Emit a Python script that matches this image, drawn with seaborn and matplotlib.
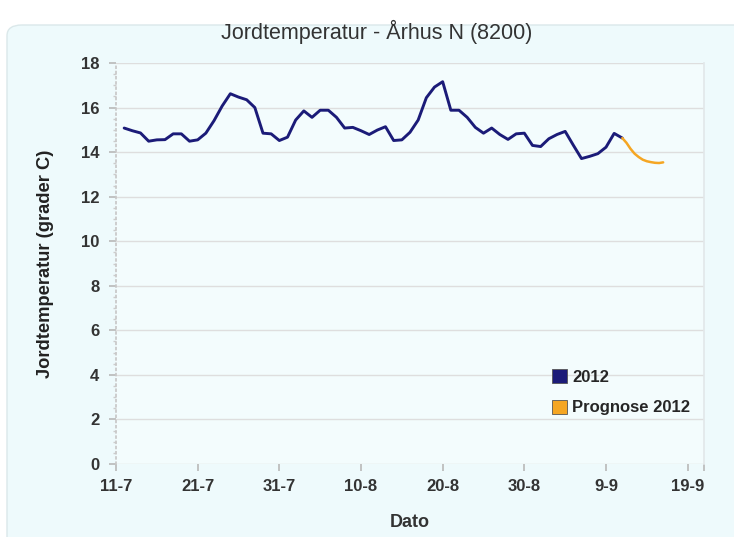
import matplotlib
matplotlib.use("Agg")
import matplotlib.pyplot as plt
from matplotlib.patches import Patch, FancyBboxPatch
from matplotlib.ticker import MultipleLocator
import seaborn as sns
import pandas as pd

# daily soil temperature, 12-7 .. 11-9 2012
temp_2012 = [15.08, 14.96, 14.86, 14.49, 14.55, 14.56, 14.82, 14.82, 14.49, 14.55,
             14.85, 15.41, 16.07, 16.62, 16.47, 16.35, 16.00, 14.85, 14.82, 14.52,
             14.67, 15.44, 15.85, 15.56, 15.88, 15.88, 15.56, 15.08, 15.11, 14.96,
             14.79, 14.99, 15.14, 14.52, 14.55, 14.89, 15.44, 16.44, 16.92, 17.16,
             15.88, 15.88, 15.56, 15.11, 14.85, 15.08, 14.79, 14.57, 14.82, 14.85,
             14.30, 14.25, 14.60, 14.79, 14.93, 14.31, 13.71, 13.81, 13.93, 14.22,
             14.84, 14.63]
start_2012 = "2012-07-12"

# forecast, every 12 hours from 11-9
prognose = [14.63, 14.42, 14.15, 13.93, 13.78, 13.66, 13.59, 13.55, 13.52, 13.51, 13.54]
start_prognose = "2012-09-11"

tick_dates = pd.date_range("2012-07-11", "2012-09-19", freq="10D")
series_names = ["2012", "Prognose 2012"]
colors = ["#1b1b78", "#f5a623"]

df_obs = pd.DataFrame({"dato": pd.date_range(start_2012, periods=len(temp_2012), freq="D"),
                       "temp": temp_2012})
df_prog = pd.DataFrame({"dato": pd.date_range(start_prognose, periods=len(prognose), freq="12h"),
                        "temp": prognose})

sns.set_theme(style="white")
plt.rcParams["font.family"] = ["Liberation Sans", "DejaVu Sans"]

fig = plt.figure(figsize=(7.34, 5.37), dpi=100, facecolor="white")
# rounded background panel
panel = FancyBboxPatch((7 / 734, -0.1), 1.2, (537 - 25) / 537 + 0.1,
                       boxstyle="round,pad=0,rounding_size=0.02",
                       transform=fig.transFigure, facecolor="#eefafc",
                       edgecolor="#dbe8ea", linewidth=1, zorder=-10)
fig.patches.append(panel)

ax = fig.add_axes([116 / 734, 1 - 464 / 537, (704 - 116) / 734, (464 - 63) / 537])
ax.set_facecolor("#f3fcfd")

sns.lineplot(data=df_obs, x="dato", y="temp", color=colors[0], linewidth=2.1, ax=ax)
sns.lineplot(data=df_prog, x="dato", y="temp", color=colors[1], linewidth=1.8, ax=ax)

ax.set_ylim(0, 18)
ax.set_xlim(pd.Timestamp("2012-07-11"), pd.Timestamp("2012-09-21"))
ax.yaxis.set_major_locator(MultipleLocator(2))
ax.yaxis.set_minor_locator(MultipleLocator(0.5))
ax.set_xticks(list(tick_dates) + [pd.Timestamp("2012-09-21")])
ax.set_xticklabels([f"{d.day}-{d.month}" for d in tick_dates] + [""])
ax.grid(axis="y", color="#dedede", linewidth=1)

for side in ["top", "bottom"]:
    ax.spines[side].set_visible(False)
ax.spines["right"].set_color("#e2e8ea")
ax.spines["left"].set_color("#c8c8c8")
ax.spines["left"].set_linestyle((0, (1, 2)))

ax.tick_params(axis="y", which="major", left=True, length=5, color="#bbbbbb",
               labelsize=12, labelcolor="#333333", pad=7)
ax.tick_params(axis="y", which="minor", left=True, length=2, color="#cccccc")
ax.tick_params(axis="x", bottom=True, length=5, color="#bbbbbb",
               labelsize=12, labelcolor="#333333", pad=6)
for lab in ax.get_xticklabels() + ax.get_yticklabels():
    lab.set_fontweight("bold")

ax.set_xlabel("Dato", fontsize=13, fontweight="bold", color="#333333", labelpad=14)
ax.set_ylabel("Jordtemperatur (grader C)", fontsize=13.2, fontweight="bold", color="#222222",
              labelpad=19)
fig.text(377 / 734, 1 - 32 / 537, "Jordtemperatur - Århus N (8200)", ha="center", va="center",
         fontsize=15.5, color="#333333")

handles = [Patch(facecolor=c, edgecolor="#555555", linewidth=0.6, label=n)
           for c, n in zip(colors, series_names)]
leg = ax.legend(handles=handles, loc="upper left", bbox_to_anchor=(537 / 734, 1 - 354 / 537),
                bbox_transform=fig.transFigure, frameon=False, handlelength=0.9,
                handleheight=0.9, handletextpad=0.3, labelspacing=0.9,
                prop={"weight": "bold", "size": 12})

fig.savefig("out.png", dpi=100, facecolor=fig.get_facecolor())
